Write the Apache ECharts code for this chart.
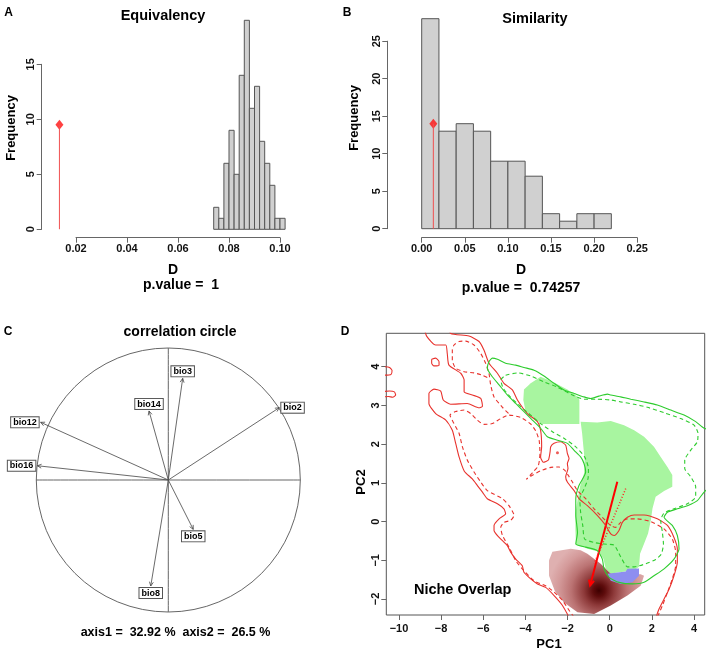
<!DOCTYPE html>
<html>
<head>
<meta charset="utf-8">
<script src="https://cdn.jsdelivr.net/npm/echarts@6/dist/echarts.min.js"></script>
<style>
  html, body { margin: 0; padding: 0; background: #fff; }
  #chart { width: 708px; height: 652px; }
</style>
</head>
<body>
<div id="chart"></div>
<script>
// ---------- data ----------
// A: equivalency test, simulated D values
var eqBreaks = [0.074, 0.076, 0.078, 0.080, 0.082, 0.084, 0.086, 0.088, 0.090, 0.092, 0.094, 0.096, 0.098, 0.100, 0.102];
var eqCounts = [2, 1, 6, 9, 5, 14, 19, 11, 13, 8, 6, 4, 1, 1];
// B: similarity test
var simBreaks = [0, 0.02, 0.04, 0.06, 0.08, 0.10, 0.12, 0.14, 0.16, 0.18, 0.20, 0.22];
var simCounts = [28, 13, 14, 13, 9, 9, 7, 2, 1, 2, 2];
// observed D and the height of its marker
var obsD = 0.0135;
var eqObsHeight = 9.5;
var simObsHeight = 14;

// C: correlation circle
var varNames = ['bio3', 'bio14', 'bio2', 'bio12', 'bio16', 'bio5', 'bio8'];
var varX = [0.109, -0.146, 0.841, -0.967, -0.992, 0.189, -0.133];
var varY = [0.770, 0.523, 0.548, 0.437, 0.108, -0.374, -0.803];

// D: niche overlap in PC1/PC2 space
var redSolidA = [[-8.8, 5.0], [-8.69, 4.79], [-8.26, 4.56], [-7.78, 4.56], [-7.71, 4.34], [-7.63, 4.04], [-7.07, 3.83], [-6.91, 3.66], [-6.91, 3.35], [-6.52, 3.27], [-6.12, 3.18], [-6.04, 2.98], [-6.20, 2.94], [-6.76, 3.05], [-7.55, 3.03], [-7.90, 3.14], [-8.02, 3.37], [-8.34, 3.42], [-8.58, 3.31], [-8.58, 3.05], [-8.26, 2.79], [-7.78, 2.62], [-7.47, 2.36], [-7.31, 2.02], [-7.15, 1.67], [-6.90, 1.30], [-6.52, 1.10], [-6.28, 0.93], [-6.04, 0.76], [-5.81, 0.59], [-5.33, 0.46], [-5.02, 0.33], [-4.94, 0.20], [-5.25, 0.07], [-5.49, -0.10], [-5.49, -0.23], [-5.25, -0.41], [-4.86, -0.62], [-4.70, -0.79], [-4.46, -0.97], [-4.15, -1.14], [-4.07, -1.31], [-3.75, -1.48], [-3.43, -1.61], [-3.04, -1.70], [-2.64, -1.91], [-2.25, -2.16], [-1.93, -2.47]];
var redSolidB = [[-7.63, 5.03], [-7.55, 4.86], [-6.68, 4.79], [-6.20, 4.65], [-5.97, 4.43], [-5.73, 4.09], [-5.33, 3.83], [-5.02, 3.57], [-4.62, 3.40], [-4.38, 3.14], [-3.91, 2.79], [-3.43, 2.58], [-3.28, 2.36], [-3.23, 1.93], [-3.28, 1.67], [-3.15, 1.53], [-2.91, 1.59], [-2.83, 1.80], [-2.80, 1.93], [-2.64, 2.02], [-2.33, 2.06], [-2.09, 1.97], [-2.01, 1.76], [-1.93, 1.63], [-2.01, 1.50], [-1.98, 1.37], [-2.09, 1.16], [-2.01, 1.02], [-1.69, 0.80], [-1.46, 0.59], [-1.06, 0.41], [-0.59, 0.16], [-0.19, -0.10], [0.05, -0.32], [0.21, -0.36], [0.44, -0.23], [0.60, -0.02], [0.84, 0.11], [1.16, 0.17], [1.63, 0.17], [2.26, 0.07], [2.74, -0.10], [3.05, -0.41], [3.21, -0.71], [3.21, -1.05], [3.05, -1.40], [2.82, -1.74], [2.58, -2.00], [2.34, -2.26], [2.18, -2.50]];
var redBlob1 = [[-8.45, 4.19], [-8.26, 4.22], [-8.10, 4.13], [-8.10, 4.04], [-8.34, 4.02], [-8.45, 4.09], [-8.45, 4.19]];
var redBlob2 = [[-10.7, 4.0], [-10.45, 3.98], [-10.33, 3.9], [-10.38, 3.8], [-10.7, 3.78]];
var redBlob3 = [[-10.7, 3.36], [-10.45, 3.37], [-10.22, 3.35], [-10.16, 3.27], [-10.3, 3.21], [-10.5, 3.23], [-10.7, 3.22]];
var redDashedMain = [[-1.69, -2.47], [-1.93, -2.29], [-2.25, -2.03], [-2.64, -1.82], [-3.04, -1.66], [-3.59, -1.53], [-4.15, -1.22], [-4.46, -1.01], [-4.78, -0.66], [-5.09, -0.36], [-5.17, -0.15], [-5.02, -0.02], [-4.70, 0.03], [-4.54, 0.16], [-4.78, 0.41], [-5.09, 0.59], [-5.81, 0.80], [-6.12, 1.02], [-6.44, 1.28], [-6.76, 1.59], [-6.99, 1.93], [-7.15, 2.28], [-7.39, 2.53], [-7.58, 2.75], [-7.31, 2.84], [-6.91, 2.88], [-6.60, 2.79], [-6.28, 2.62], [-5.97, 2.51], [-5.57, 2.53], [-5.17, 2.66], [-4.78, 2.75], [-4.22, 2.69], [-3.75, 2.52], [-3.51, 2.34], [-3.35, 2.10], [-3.31, 1.76], [-3.39, 1.44], [-3.67, 1.26], [-3.96, 1.09], [-3.75, 1.17], [-3.28, 1.31], [-2.80, 1.40], [-2.41, 1.41], [-2.14, 1.33], [-1.93, 1.16], [-1.77, 1.02], [-1.53, 0.80], [-1.14, 0.59], [-0.74, 0.33], [-0.35, 0.11], [0.05, -0.10], [0.28, -0.15], [0.52, -0.02], [0.84, 0.07], [1.31, 0.07], [1.95, 0.00], [2.58, -0.19], [2.97, -0.45], [3.13, -0.79], [3.13, -1.14], [2.97, -1.48], [2.74, -1.83], [2.50, -2.17], [2.26, -2.47]];
var redDashedTop = [[-5.81, 3.72], [-6.04, 3.78], [-6.44, 3.84], [-6.91, 3.87], [-7.31, 3.96], [-7.47, 4.17], [-7.47, 4.43], [-7.39, 4.56], [-7.15, 4.65], [-6.84, 4.66], [-6.44, 4.56], [-6.12, 4.34], [-5.89, 4.09], [-5.73, 3.83], [-5.65, 3.53], [-5.49, 3.22], [-5.09, 2.95], [-4.78, 2.78]];
var greenSolid = [[4.87, 2.36], [4.48, 2.41], [4.08, 2.58], [3.53, 2.75], [2.90, 2.88], [2.26, 3.01], [1.63, 3.09], [1.00, 3.16], [0.52, 3.22], [0.05, 3.27], [-0.11, 3.29], [-0.51, 3.24], [-0.90, 3.18], [-1.22, 3.22], [-1.69, 3.31], [-2.17, 3.40], [-2.64, 3.57], [-3.12, 3.76], [-3.59, 3.91], [-4.07, 3.98], [-4.46, 4.04], [-4.94, 4.09], [-5.33, 4.19], [-5.57, 4.22], [-5.73, 4.13], [-5.81, 3.96], [-5.57, 3.74], [-5.25, 3.53], [-4.86, 3.27], [-4.46, 3.05], [-4.07, 2.84], [-3.67, 2.62], [-3.28, 2.41], [-2.96, 2.19], [-2.48, 2.10], [-2.01, 2.02], [-1.69, 1.84], [-1.38, 1.67], [-1.22, 1.50], [-1.14, 1.28], [-1.46, 0.93], [-1.61, 0.59], [-1.61, 0.16], [-1.53, -0.28], [-1.61, -0.58], [-1.14, -0.66], [-0.59, -0.75], [-0.35, -0.97], [-0.27, -1.22], [-0.03, -1.44], [0.44, -1.57], [1.08, -1.61], [1.63, -1.57], [2.10, -1.40], [2.58, -1.22], [3.05, -0.97], [3.29, -0.71], [3.21, -0.36], [2.97, -0.10], [2.58, 0.11], [2.74, 0.24], [3.21, 0.33], [3.69, 0.41], [4.16, 0.54], [4.48, 0.76], [4.87, 0.93]];
var greenDashed = [[-4.94, 3.78], [-4.38, 3.84], [-3.75, 3.76], [-3.12, 3.61], [-2.48, 3.47], [-1.85, 3.29], [-1.22, 3.16], [-0.59, 3.16], [0.05, 3.14], [0.52, 3.09], [1.16, 3.03], [1.79, 2.95], [2.58, 2.81], [3.37, 2.66], [4.00, 2.49], [4.19, 2.28], [4.16, 2.06], [3.84, 1.84], [3.56, 1.59], [3.56, 1.37], [3.84, 1.16], [4.08, 0.90], [4.08, 0.64], [3.69, 0.46], [3.05, 0.33], [2.58, 0.22], [2.42, 0.03], [2.50, -0.28], [2.55, -0.58], [2.45, -0.84], [2.18, -0.98], [1.71, -1.09], [1.16, -1.17], [0.84, -1.17], [0.52, -0.91], [0.21, -0.61], [-0.27, -0.58], [-0.74, -0.54], [-1.19, -0.45], [-1.28, -0.10], [-1.38, 0.24], [-1.42, 0.59], [-1.22, 0.84], [-1.03, 1.11], [-1.01, 1.37], [-1.19, 1.67], [-1.61, 1.93], [-2.17, 2.15], [-2.72, 2.32], [-3.28, 2.53], [-3.75, 2.75], [-4.22, 2.97], [-4.70, 3.21], [-5.05, 3.44], [-5.17, 3.66], [-4.94, 3.78]];
var greenFillA = [[-3.28, 3.74], [-2.64, 3.59], [-2.01, 3.41], [-1.50, 3.22], [-1.44, 3.14], [-1.44, 2.52], [-3.20, 2.52], [-3.59, 2.66], [-3.99, 2.84], [-4.10, 3.14], [-4.07, 3.41], [-3.75, 3.57]];
var greenFillB = [[-1.38, 2.58], [-0.59, 2.56], [0.05, 2.60], [0.68, 2.49], [1.16, 2.36], [1.63, 2.19], [2.10, 1.93], [2.42, 1.67], [2.74, 1.41], [2.97, 1.20], [2.97, 0.90], [2.58, 0.79], [2.18, 0.64], [2.03, 0.34], [1.95, 0.03], [1.82, -0.31], [1.63, -0.57], [1.44, -0.83], [1.39, -1.17], [1.16, -1.26], [0.05, -1.34], [-0.19, -1.22], [-0.30, -0.96], [-0.51, -0.78], [-1.06, -0.70], [-1.60, -0.59], [-1.63, -0.22], [-1.63, 0.21], [-1.53, 0.55], [-1.41, 0.90], [-1.22, 1.24], [-1.19, 1.59], [-1.25, 1.93], [-1.31, 2.28]];
var overlapFill = [[-0.11, -1.35], [0.76, -1.29], [0.84, -1.22], [1.39, -1.21], [1.39, -1.40], [1.08, -1.57], [0.52, -1.61], [0.05, -1.53]];
var densityOutline = [[-2.72, -0.78], [-1.85, -0.70], [-1.38, -0.74], [-1.06, -0.83], [-0.43, -1.09], [0.05, -1.34], [1.47, -1.36], [1.63, -1.40], [1.47, -1.66], [0.84, -1.91], [0.05, -2.17], [-0.74, -2.39], [-1.53, -2.34], [-2.17, -2.09], [-2.60, -1.80], [-2.88, -1.40], [-2.88, -1.00]];
var densityPeak = [-0.51, -1.78];
var shiftArrow = [[0.36, 1.03], [-0.93, -1.65]];
var envShift = [[0.76, 0.85], [-0.74, -1.09]];
var redDot = [-2.48, 1.78];

// ---------- helpers ----------
var FONT = 'Liberation Sans, Arial, sans-serif';
var grids = [], xAxes = [], yAxes = [], series = [];

function addGrid(box, xa, ya) {
    var i = grids.length;
    grids.push(box);
    xa.gridIndex = i; ya.gridIndex = i;
    xAxes.push(xa); yAxes.push(ya);
    return i;
}
function hidden(min, max) {
    return { type: 'value', show: false, min: min, max: max };
}
// R-style axis: ticks outwards, bold labels
function rAxis(min, max, step, pos, opt) {
    return {
        type: 'value', position: pos, min: min, max: max, interval: step,
        axisLine: { show: opt.line !== false, lineStyle: { color: '#666', width: 1 } },
        axisTick: { show: true, length: 5, lineStyle: { color: '#666' } },
        splitLine: { show: false },
        axisLabel: {
            rotate: opt.rotate || 0, margin: opt.margin, color: '#111', fontSize: 11,
            fontWeight: 'bold', fontFamily: FONT, showMinLabel: true, showMaxLabel: true,
            formatter: opt.fmt
        }
    };
}
function minus(v) { return String(v).replace('-', '\u2212'); }
function fix2(v) { return v.toFixed(2); }

function histSeries(g, breaks, counts) {
    return {
        type: 'custom', xAxisIndex: g, yAxisIndex: g, silent: true,
        data: counts.map(function (c, i) { return [breaks[i], breaks[i + 1], c]; }),
        encode: { x: [0, 1], y: 2 },
        renderItem: function (params, api) {
            var p0 = api.coord([api.value(0), api.value(2)]);
            var p1 = api.coord([api.value(1), 0]);
            return {
                type: 'rect',
                shape: { x: p0[0], y: p0[1], width: p1[0] - p0[0], height: p1[1] - p0[1] },
                style: { fill: '#d0d0d0', stroke: '#555', lineWidth: 1 }
            };
        }
    };
}
function obsSeries(g, h) {
    return [{
        type: 'line', xAxisIndex: g, yAxisIndex: g, data: [[obsD, 0], [obsD, h]],
        symbol: 'none', silent: true, lineStyle: { color: '#f05050', width: 1 }
    }, {
        type: 'scatter', xAxisIndex: g, yAxisIndex: g, data: [[obsD, h]],
        symbol: 'diamond', symbolSize: [8, 10], silent: true, itemStyle: { color: '#ff1010' }
    }];
}
function pathSeries(g, pts, color, dash, width) {
    return {
        type: 'line', xAxisIndex: g, yAxisIndex: g, data: pts, symbol: 'none', silent: true,
        smooth: 0.2, lineStyle: { color: color, width: width || 1.1, type: dash || 'solid' }
    };
}
function polySeries(g, pts, fillFn) {
    return {
        type: 'custom', xAxisIndex: g, yAxisIndex: g, data: [[0, 0]], clip: true, silent: true,
        renderItem: function (params, api) {
            return {
                type: 'polygon',
                shape: { points: pts.map(function (p) { return api.coord(p); }) },
                style: { fill: fillFn(api) }
            };
        }
    };
}
function arrowHead(p, o, len, ang) {
    var a = Math.atan2(p[1] - o[1], p[0] - o[0]);
    return [[p[0] - len * Math.cos(a - ang), p[1] - len * Math.sin(a - ang)], p,
            [p[0] - len * Math.cos(a + ang), p[1] - len * Math.sin(a + ang)]];
}
function txt(s, x, y, size, rot) {
    return {
        type: 'text', x: x, y: y, rotation: rot || 0, silent: true,
        style: { text: s, font: 'bold ' + size + 'px ' + FONT, fill: '#000', align: 'center', verticalAlign: 'middle' }
    };
}

// ---------- panel A ----------
var gA = addGrid({ left: 50.5, top: 9.3, width: 242.25, height: 220 }, hidden(0.01, 0.105), hidden(0, 20));
addGrid({ left: 76, top: 236.7, width: 204, height: 1 }, rAxis(0.02, 0.1, 0.02, 'bottom', { margin: 6, fmt: fix2 }), hidden(0, 1));
addGrid({ left: 41.7, top: 64.3, width: 1, height: 165 }, hidden(0, 1), rAxis(0, 15, 5, 'left', { rotate: 90, margin: 5 }));
series.push(histSeries(gA, eqBreaks, eqCounts));
series = series.concat(obsSeries(gA, eqObsHeight));

// ---------- panel B ----------
var gB = addGrid({ left: 413.08, top: 3.7, width: 232.74, height: 225 }, hidden(-0.01, 0.26), hidden(0, 30));
addGrid({ left: 421.7, top: 236.7, width: 215.5, height: 1 }, rAxis(0, 0.25, 0.05, 'bottom', { margin: 6, fmt: fix2 }), hidden(0, 1));
addGrid({ left: 387.3, top: 41.2, width: 1, height: 187.5 }, hidden(0, 1), rAxis(0, 25, 5, 'left', { rotate: 90, margin: 5 }));
series.push(histSeries(gB, simBreaks, simCounts));
series = series.concat(obsSeries(gB, simObsHeight));

// ---------- panel C ----------
var gC = addGrid({ left: 9.9, top: 321.6, width: 316.8, height: 316.8 }, hidden(-1.2, 1.2), hidden(-1.2, 1.2));
series.push({
    type: 'custom', xAxisIndex: gC, yAxisIndex: gC, data: [[0, 0]], silent: true,
    renderItem: function (params, api) {
        var c = api.coord([0, 0]);
        var r = api.size([1, 0])[0];
        return { type: 'circle', shape: { cx: c[0], cy: c[1], r: r }, style: { fill: 'none', stroke: '#555', lineWidth: 0.9 } };
    }
});
series.push(pathSeries(gC, [[-1, 0], [1, 0]], '#555', 'solid', 0.9));
series.push(pathSeries(gC, [[0, -1], [0, 1]], '#555', 'solid', 0.9));
series.push({
    type: 'custom', xAxisIndex: gC, yAxisIndex: gC, silent: true,
    data: varX.map(function (x, i) { return [x, varY[i]]; }),
    renderItem: function (params, api) {
        var vx = api.value(0), vy = api.value(1);
        var o = api.coord([0, 0]), p = api.coord([vx, vy]);
        var horiz = Math.abs(vx) > Math.abs(vy);
        return {
            type: 'group', children: [
                { type: 'line', shape: { x1: o[0], y1: o[1], x2: p[0], y2: p[1] }, style: { stroke: '#444', lineWidth: 0.8 } },
                { type: 'polyline', shape: { points: arrowHead(p, o, 4.5, 0.45) }, style: { stroke: '#444', fill: 'none', lineWidth: 0.8 } },
                {
                    type: 'text', x: p[0] + (horiz ? (vx > 0 ? 2 : -2) : 0), y: p[1] + (horiz ? 0 : (vy > 0 ? -2 : 2)),
                    style: {
                        text: varNames[params.dataIndex], font: 'bold 9px ' + FONT, fill: '#000',
                        align: horiz ? (vx > 0 ? 'left' : 'right') : 'center',
                        verticalAlign: horiz ? 'middle' : (vy > 0 ? 'bottom' : 'top'),
                        backgroundColor: '#fff', borderColor: '#555', borderWidth: 1, padding: [1, 2, 0, 2]
                    }
                }
            ]
        };
    }
});

// ---------- panel D ----------
var gD = addGrid({ left: 386.3, top: 333.3, width: 318.4, height: 281.7, show: true, borderColor: '#555', borderWidth: 1, backgroundColor: '#fff' },
    hidden(-10.603, 4.508), hidden(-2.413, 4.862));
addGrid({ left: 399, top: 614, width: 295, height: 1 }, rAxis(-10, 4, 2, 'bottom', { line: false, margin: 8, fmt: minus }), hidden(0, 1));
addGrid({ left: 386.3, top: 366.7, width: 1, height: 232.3 }, hidden(0, 1), rAxis(-2, 4, 1, 'left', { line: false, rotate: 90, margin: 5, fmt: minus }));

series.push(polySeries(gD, densityOutline, function (api) {
    var c = api.coord(densityPeak);
    var r = api.size([2.4, 0])[0];
    return new echarts.graphic.RadialGradient(c[0], c[1], r, [
        { offset: 0, color: '#3d0000' }, { offset: 0.12, color: '#5e0c0c' },
        { offset: 0.3, color: '#8e3a3a' }, { offset: 0.55, color: '#bb7373' },
        { offset: 0.8, color: '#d49a9a' }, { offset: 1, color: '#dfb0b0' }
    ], true);
}));
series.push(polySeries(gD, greenFillA, function () { return '#a8f5a0'; }));
series.push(polySeries(gD, greenFillB, function () { return '#a8f5a0'; }));
series.push(polySeries(gD, overlapFill, function () { return '#8e8ef0'; }));

var RED = '#e8322d', GREEN = '#2ecc2e';
[redSolidA, redSolidB, redBlob1, redBlob2, redBlob3].forEach(function (p) { series.push(pathSeries(gD, p, RED)); });
[redDashedMain, redDashedTop].forEach(function (p) { series.push(pathSeries(gD, p, RED, [4, 3])); });
series.push(pathSeries(gD, greenSolid, GREEN));
series.push(pathSeries(gD, greenDashed, GREEN, [4, 3]));
series.push(pathSeries(gD, envShift, '#ff2020', [1, 2], 1.5));
series.push({
    type: 'custom', xAxisIndex: gD, yAxisIndex: gD, data: [[0, 0]], silent: true,
    renderItem: function (params, api) {
        var s = api.coord(shiftArrow[0]), e = api.coord(shiftArrow[1]);
        return {
            type: 'group', children: [
                { type: 'line', shape: { x1: s[0], y1: s[1], x2: e[0], y2: e[1] }, style: { stroke: '#ff0000', lineWidth: 2 } },
                { type: 'polyline', shape: { points: arrowHead(e, s, 6, 0.45) }, style: { stroke: '#ff0000', fill: 'none', lineWidth: 2 } }
            ]
        };
    }
});
series.push({
    type: 'scatter', xAxisIndex: gD, yAxisIndex: gD, data: [redDot], symbolSize: 3, silent: true,
    itemStyle: { color: RED }
});

// ---------- text ----------
var graphics = [
    txt('A', 8.5, 13, 12), txt('B', 347, 13, 12), txt('C', 8, 332, 12), txt('D', 345, 332, 12),
    txt('Equivalency', 163, 16, 14.5), txt('Similarity', 535, 18.5, 14.5),
    txt('Frequency', 11, 128, 13, Math.PI / 2), txt('Frequency', 354, 118, 13, Math.PI / 2),
    txt('D', 173, 270, 14), txt('p.value =  1', 181, 285, 14),
    txt('D', 521, 270, 14), txt('p.value =  0.74257', 521, 288, 14),
    txt('correlation circle', 180, 332, 14), txt('axis1 =  32.92 %  axis2 =  26.5 %', 175.5, 633, 12.5),
    txt('Niche Overlap', 462.7, 590, 14.5),
    txt('PC1', 549, 644, 13), txt('PC2', 361.5, 482, 13, Math.PI / 2)
];

var chart = echarts.init(document.getElementById('chart'), null, { renderer: 'canvas' });
chart.setOption({
    animation: false,
    backgroundColor: '#fff',
    grid: grids,
    xAxis: xAxes,
    yAxis: yAxes,
    series: series,
    graphic: graphics
});
</script>
</body>
</html>
